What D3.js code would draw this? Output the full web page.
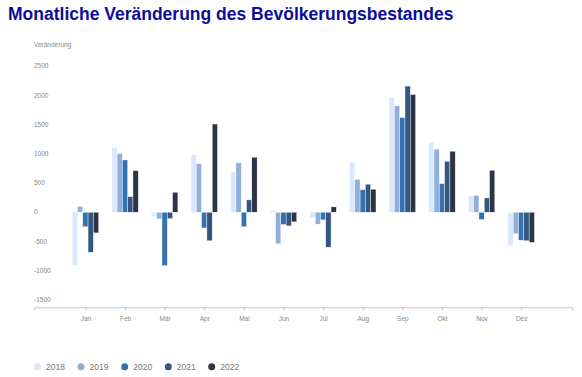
<!DOCTYPE html>
<html><head><meta charset="utf-8">
<script src="https://cdn.jsdelivr.net/npm/d3@7"></script>
<style>body{margin:0;background:#fff}svg{display:block}</style>
</head><body>
<script>
const months = ["Jan","Feb","Mär","Apr","Mai","Jun","Jul","Aug","Sep","Okt","Nov","Dez"];
const years = ["2018","2019","2020","2021","2022"];
const v2018 = [-910, 1110, -75, 985, 690, 27, -92, 850, 1960, 1200, 280, -575];
const v2019 = [100, 1005, -115, 830, 845, -540, -205, 565, 1820, 1080, 290, -370];
const v2020 = [-250, 895, -915, -270, -250, -212, -132, 385, 1620, 490, -127, -480];
const v2021 = [-685, 267, -110, -490, 211, -235, -600, 480, 2160, 873, 245, -490];
const v2022 = [-355, 712, 342, 1510, 942, -166, 91, 394, 2015, 1045, 719, -515];
const series = [v2018, v2019, v2020, v2021, v2022];
const colors = ["#dbe7fb", "#8fb0db", "#3471b1", "#345782", "#2b3546"];
const yTicks = [-1500, -1000, -500, 0, 500, 1000, 1500, 2000, 2500];

const W = 582, H = 377;
const svg = d3.select("body").append("svg").attr("width", W).attr("height", H);

svg.append("text").attr("x", 8).attr("y", 20)
  .attr("font-family", "Liberation Sans, Arial, sans-serif").attr("font-weight", "bold")
  .attr("font-size", 17.5).attr("fill", "#0c0c9a")
  .text("Monatliche Veränderung des Bevölkerungsbestandes");

const y = d3.scaleLinear().domain([0, 2500]).range([212.2, 66.2]);
const x = d3.scalePoint().domain(months).range([34.3, 572.3]).padding(1.29);
const bw = 5.3;

svg.append("text").attr("x", 34).attr("y", 47)
  .attr("font-family", "Liberation Sans, Arial, sans-serif").attr("font-size", 6.5).attr("fill", "#888")
  .text("Veränderung");

svg.append("g").selectAll("text").data(yTicks).join("text")
  .attr("x", 34).attr("y", d => y(d)).attr("dy", "0.35em")
  .attr("font-family", "Liberation Sans, Arial, sans-serif").attr("font-size", 6.5).attr("fill", "#888")
  .text(d => d);

const axisY = 307.3;
const xAxis = svg.append("g").attr("transform", `translate(0,${axisY})`)
  .call(d3.axisBottom(x).tickSize(3).tickSizeOuter(3));
xAxis.select(".domain").attr("stroke", "#c8c8c8");
xAxis.selectAll(".tick line").attr("stroke", "#c8c8c8");
xAxis.selectAll(".tick text").attr("font-family", "Liberation Sans, Arial, sans-serif")
  .attr("font-size", 6.5).attr("fill", "#888").attr("dy", "1.2em");

series.forEach((vals, si) => {
  svg.append("g").selectAll("rect").data(vals).join("rect")
    .attr("x", (d, i) => x(months[i]) - 2.5 * bw + si * bw)
    .attr("width", bw)
    .attr("y", d => y(Math.max(0, d)))
    .attr("height", d => Math.abs(y(d) - y(0)))
    .attr("fill", colors[si])
    .attr("stroke", "#fff").attr("stroke-width", 0.4);
});

const legX = [37.5, 81, 124.7, 168.3, 211.7];
const leg = svg.append("g").selectAll("g").data(years).join("g")
  .attr("transform", (d, i) => `translate(${legX[i]},366.7)`);
leg.append("circle").attr("r", 3.5).attr("fill", (d, i) => colors[i]);
leg.append("text").attr("x", 8.5).attr("dy", "0.35em")
  .attr("font-family", "Liberation Sans, Arial, sans-serif").attr("font-size", 8.5).attr("fill", "#777")
  .text(d => d);
</script>
</body></html>
